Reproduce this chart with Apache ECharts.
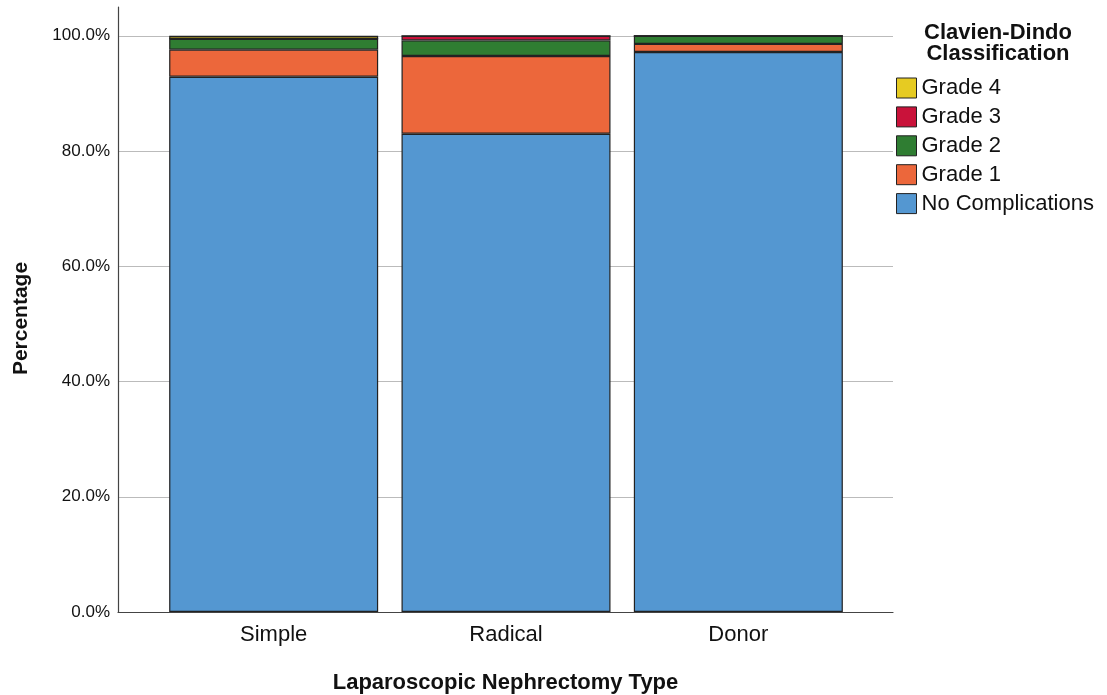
<!DOCTYPE html>
<html>
<head>
<meta charset="utf-8">
<script src="https://cdn.jsdelivr.net/npm/echarts@6/dist/echarts.min.js"></script>
<style>html,body{margin:0;padding:0;background:#fff;}#c{width:1107px;height:695px;}</style>
</head>
<body>
<div id="c"></div>
<script>
var categories = ['Simple', 'Radical', 'Donor'];
var noComplications = [92.9, 83.0, 97.2];
var grade1 = [4.7, 13.5, 1.4];
var grade2 = [1.9, 2.7, 1.4];
var grade3 = [0.0, 0.8, 0.0];
var grade4 = [0.5, 0.0, 0.0];
var yTicks = [0, 20, 40, 60, 80, 100];

var seriesNames = ['No Complications', 'Grade 1', 'Grade 2', 'Grade 3', 'Grade 4'];
var seriesData = [noComplications, grade1, grade2, grade3, grade4];
var colors = ['#5497D1', '#EC673B', '#2F7D32', '#C9123A', '#E6CB22'];

var chart = echarts.init(document.getElementById('c'));
var font = 'Liberation Sans, Arial, Helvetica, sans-serif';

var series = seriesNames.map(function (n, i) {
  return {
    name: n,
    type: 'bar',
    stack: 'total',
    xAxisIndex: 1,
    yAxisIndex: 1,
    barWidth: 209,
    data: seriesData[i],
    itemStyle: { color: colors[i], borderColor: '#222', borderWidth: 1.2 },
    emphasis: { disabled: true }
  };
});

chart.setOption({
  animation: false,
  textStyle: { fontFamily: font },
  grid: [
    { left: 118, right: 214, top: 7, bottom: 83, outerBoundsMode: 'none', containLabel: false },
    { left: 157.5, right: 252.5, top: 7, bottom: 83, outerBoundsMode: 'none', containLabel: false }
  ],
  xAxis: [
    {
      gridIndex: 0, type: 'value', min: 0, max: 1,
      axisLine: { show: true, lineStyle: { color: '#444', width: 1.2 } },
      axisTick: { show: false }, axisLabel: { show: false }, splitLine: { show: false },
      name: 'Laparoscopic Nephrectomy Type', nameLocation: 'middle', nameGap: 60,
      nameTextStyle: { fontSize: 22, fontWeight: 'bold', color: '#111', fontFamily: font }
    },
    {
      gridIndex: 1, type: 'category', data: categories,
      axisLine: { show: false }, axisTick: { show: false },
      axisLabel: { fontSize: 22, color: '#111', margin: 12, fontFamily: font }
    }
  ],
  yAxis: [
    {
      gridIndex: 0, type: 'value', min: 0, max: 105, interval: 20,
      axisLine: { show: true, lineStyle: { color: '#444', width: 1.2 } },
      axisTick: { show: false },
      axisLabel: {
        fontSize: 17, color: '#111', margin: 8, fontFamily: font, showMaxLabel: false,
        padding: [6, 0, 0, 0],
        formatter: function (v) { return yTicks.indexOf(v) >= 0 ? v.toFixed(1) + '%' : ''; }
      },
      splitLine: { show: true, showMinLine: false, showMaxLine: false, lineStyle: { color: '#bbbbbb', width: 1 } },
      name: 'Percentage', nameLocation: 'middle', nameGap: 86,
      nameTextStyle: { fontSize: 21, fontWeight: 'bold', color: '#111', fontFamily: font, padding: [0, 18, 0, 0] }
    },
    {
      gridIndex: 1, type: 'value', min: 0, max: 105, show: false
    }
  ],
  legend: {
    orient: 'vertical',
    left: 896, top: 77,
    padding: 0,
    itemWidth: 20, itemHeight: 20, itemGap: 6.9,
    icon: 'rect',
    selectedMode: false,
    data: ['Grade 4', 'Grade 3', 'Grade 2', 'Grade 1', 'No Complications'],
    textStyle: { fontSize: 22, lineHeight: 20, color: '#111', fontFamily: font },
    itemStyle: { borderColor: '#222', borderWidth: 1 }
  },
  graphic: [
    {
      type: 'text', x: 998, y: 22,
      style: {
        text: 'Clavien-Dindo\nClassification', textAlign: 'center', textVerticalAlign: 'top',
        font: 'bold 22px ' + font, fill: '#111', lineHeight: 21
      }
    }
  ],
  series: series
});
</script>
</body>
</html>
